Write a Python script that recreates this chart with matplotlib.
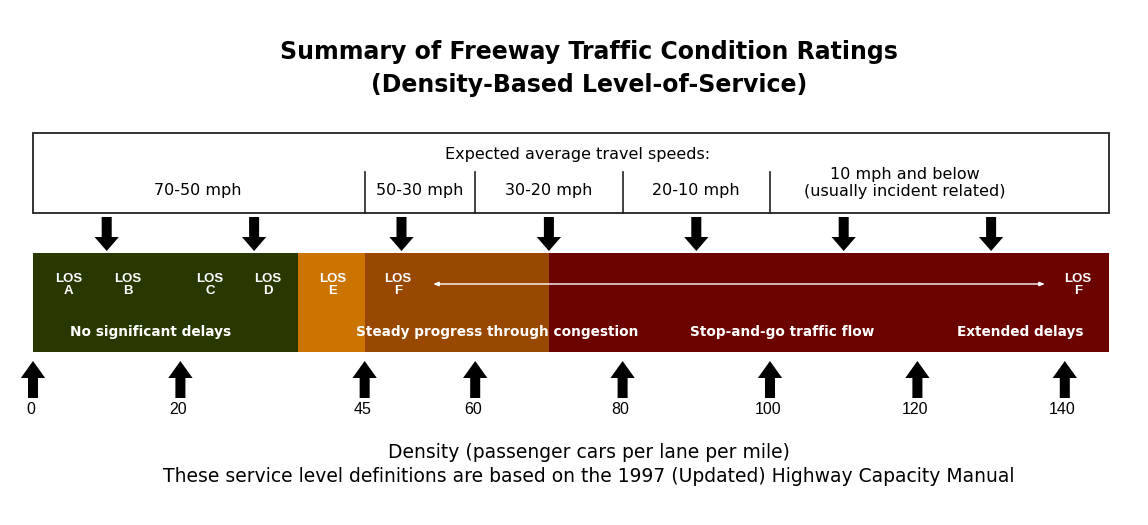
import matplotlib.pyplot as plt
from matplotlib.patches import Rectangle

plt.rcParams['font.family'] = ['DejaVu Sans']
CONDENSED = ['Liberation Sans', 'DejaVu Sans']

# LOS zones along the density axis (passenger cars / lane / mile)
zone_start = [0, 36, 45, 70]
zone_end = [36, 45, 70, 146]
zone_colors = ['#283800', '#cc7400', '#984800', '#6b0400']

los_letters = ['A', 'B', 'C', 'D', 'E', 'F', 'F']
los_pos = [4.8, 12.9, 24, 31.9, 40.6, 49.5, 141.8]

speed_bands = ['70-50 mph', '50-30 mph', '30-20 mph', '20-10 mph',
               '10 mph and below\n(usually incident related)']
speed_pos = [22.4, 52.5, 70, 90, 118.3]
speed_dividers = [45, 60, 80, 100]

top_arrows = [10, 30, 50, 70, 90, 110, 130]
density_ticks = [0, 20, 45, 60, 80, 100, 120, 140]

notes = ['No significant delays', 'Steady progress through congestion',
         'Stop-and-go traffic flow', 'Extended delays']
note_pos = [16, 63, 101.6, 134]

fig = plt.figure(figsize=(11.48, 5.25), dpi=100)
fig.patch.set_facecolor('white')
# x in density units, y in pixel rows (top = 0)
ax = fig.add_axes([0, 0, 1, 1])
ax.set_xlim(-33 / 7.37, (1148 - 33) / 7.37)
ax.set_ylim(525, 0)
ax.axis('off')

ax.text(75.4, 52, 'Summary of Freeway Traffic Condition Ratings',
        ha='center', va='center', fontsize=17, fontweight='bold')
ax.text(75.4, 85, '(Density-Based Level-of-Service)',
        ha='center', va='center', fontsize=17, fontweight='bold')

# speed box
ax.add_patch(Rectangle((0, 133), 146, 80, facecolor='white', edgecolor='#222222', lw=1.3))
ax.text(73.9, 155, 'Expected average travel speeds:', ha='center', va='center', fontsize=11.5)
for d in speed_dividers:
    ax.plot([d, d], [172, 213], color='#222222', lw=1.2)
for lab, x in zip(speed_bands, speed_pos):
    yy = 183 if '\n' in lab else 190
    ax.text(x, yy, lab, ha='center', va='center', fontsize=11.5, linespacing=1.1)

# arrows into the bar from the speed box
for d in top_arrows:
    ax.arrow(d, 217, 0, 34, width=1.36, head_width=3.3, head_length=14,
             length_includes_head=True, color='black', lw=0)

# LOS bar
for s, e, c in zip(zone_start, zone_end, zone_colors):
    ax.add_patch(Rectangle((s, 253), e - s, 99, facecolor=c, edgecolor='none'))

for letter, x in zip(los_letters, los_pos):
    ax.text(x, 285, 'LOS\n' + letter, ha='center', va='center', color='white',
            fontsize=9.5, fontweight='bold', linespacing=1.05, family=CONDENSED)

ax.annotate('', xy=(137.3, 284), xytext=(54.3, 284),
            arrowprops=dict(arrowstyle='<|-|>,head_length=0.3,head_width=0.12',
                            color='white', lw=1, shrinkA=0, shrinkB=0))

for lab, x in zip(notes, note_pos):
    ax.text(x, 332, lab, ha='center', va='center', color='white',
            fontsize=9.8, fontweight='bold')

# density markers below the bar
for d in density_ticks:
    ax.arrow(d, 398, 0, -37, width=1.36, head_width=3.3, head_length=17,
             length_includes_head=True, color='black', lw=0)
    ax.text(d - 0.3, 410, str(d), ha='center', va='center', fontsize=11.5, family=CONDENSED)

ax.text(75.4, 452, 'Density (passenger cars per lane per mile)',
        ha='center', va='center', fontsize=13.5)
ax.text(75.4, 476, 'These service level definitions are based on the 1997 (Updated) Highway Capacity Manual',
        ha='center', va='center', fontsize=13.5)

fig.savefig('out.png', dpi=100)
